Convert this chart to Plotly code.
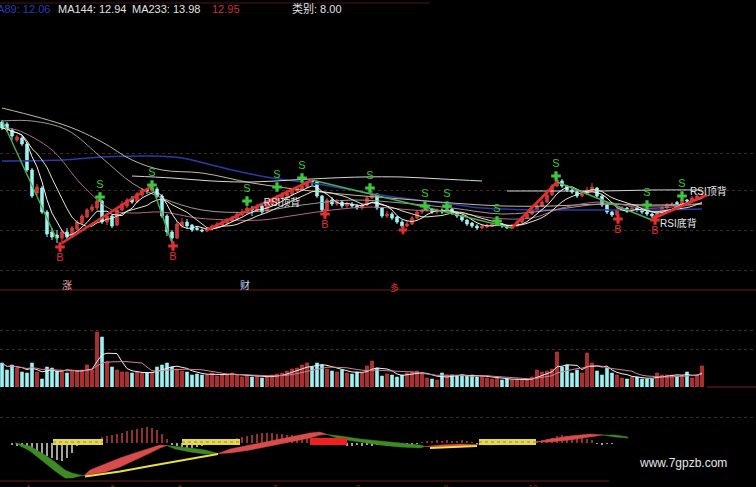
import plotly.graph_objects as go
import pandas as pd

W, H = 756, 487

# ---------------- data ----------------
opens = [16.7,16.6,16.3,15.8,15.9,15.6,14.3,13.15,13.4,12.2,
         11.2,11.05,10.9,11.2,10.95,11.35,11.65,11.95,12.3,12.4,
         12.75,11.7,12.0,11.55,12.3,12.5,12.85,12.7,13.05,13.35,
         13.25,13.35,13.0,12.0,11.2,10.9,11.5,11.7,11.55,11.4,
         11.3,11.25,11.35,11.45,11.55,11.65,11.75,11.85,12.05,12.2,
         12.4,12.3,12.5,12.25,12.6,12.75,12.9,13.0,13.1,13.25,
         13.35,13.45,13.75,13.7,13.0,12.3,12.8,12.6,12.7,12.5,
         12.6,12.5,12.4,12.55,12.9,13.1,12.4,12.0,12.1,11.95,
         11.7,11.5,11.6,11.9,12.2,12.3,12.35,12.2,12.3,12.2,
         12.35,12.15,12.0,11.8,11.65,11.5,11.4,11.45,11.5,11.55,
         11.6,11.5,11.4,11.5,11.7,11.9,12.1,12.3,12.5,12.7,
         13.05,13.5,13.75,13.5,13.3,13.2,13.0,13.1,13.3,13.4,
         13.0,12.55,12.2,12.05,12.3,12.4,12.25,12.4,12.3,12.2,
         12.1,12.0,12.15,12.4,12.55,12.68,12.6,12.8,12.75,12.88,
         12.9]
closes = [16.4,16.3,16.0,15.95,15.6,14.3,13.0,13.45,12.2,11.1,
          10.95,10.9,11.2,10.95,11.4,11.7,12.0,12.3,12.45,12.75,
          11.7,12.0,11.5,12.3,12.6,12.8,12.7,13.1,13.3,13.25,
          13.4,13.0,12.0,11.2,10.9,11.6,11.7,11.5,11.3,11.33,
          11.25,11.35,11.5,11.6,11.7,11.8,11.9,12.1,12.2,12.4,
          12.3,12.5,12.2,12.65,12.8,12.95,13.05,13.15,13.3,13.4,
          13.5,13.65,13.7,13.0,12.3,12.8,12.6,12.7,12.5,12.6,
          12.5,12.4,12.55,12.9,13.1,12.4,12.0,12.1,11.9,11.7,
          11.5,11.6,11.9,12.2,12.3,12.35,12.2,12.3,12.2,12.35,
          12.15,12.0,11.8,11.6,11.5,11.4,11.5,11.55,11.58,11.6,
          11.5,11.4,11.5,11.7,11.9,12.1,12.3,12.5,12.7,13.05,
          13.5,13.8,13.5,13.3,13.2,13.0,13.1,13.3,13.45,13.0,
          12.55,12.2,12.05,12.3,12.4,12.25,12.4,12.3,12.2,12.1,
          12.0,12.15,12.4,12.55,12.6,12.62,12.8,12.75,12.9,13.0,
          12.95]
highs = [16.8,16.7,16.4,16.05,16.0,15.7,14.4,13.6,13.5,12.3,
         11.4,11.3,11.3,11.4,11.5,11.8,12.1,12.4,12.6,12.85,
         12.8,12.15,12.05,12.4,12.75,12.9,13.0,13.2,13.4,13.4,
         13.45,13.45,13.1,12.1,11.3,11.75,11.9,11.85,11.6,11.5,
         11.38,11.42,11.58,11.7,11.8,11.9,12.0,12.2,12.35,12.55,
         12.5,12.6,12.6,12.75,12.9,13.05,13.2,13.3,13.4,13.5,
         13.65,13.75,13.8,13.75,13.05,12.9,12.95,12.85,12.8,12.7,
         12.7,12.6,12.65,13.0,13.25,13.15,12.45,12.25,12.2,12.0,
         11.8,11.75,12.0,12.3,12.35,12.4,12.4,12.38,12.38,12.4,
         12.4,12.2,12.05,11.85,11.7,11.6,11.6,11.62,11.62,11.65,
         11.64,11.55,11.6,11.8,12.0,12.2,12.4,12.6,12.8,13.15,
         13.6,13.9,13.85,13.55,13.4,13.3,13.25,13.45,13.65,13.45,
         13.05,12.6,12.25,12.4,12.5,12.45,12.5,12.45,12.35,12.25,
         12.15,12.25,12.5,12.65,12.7,12.75,12.9,12.85,13.0,13.1,
         13.15]
lows = [16.3,16.2,15.8,15.7,15.5,14.2,12.9,13.0,12.1,10.95,
        10.8,10.65,10.6,10.85,10.9,11.3,11.6,11.9,12.2,12.3,
        11.6,11.55,11.4,11.5,12.25,12.4,12.6,12.65,12.95,13.1,
        13.2,12.9,11.9,11.0,10.7,10.85,11.4,11.4,11.2,11.25,
        11.18,11.2,11.3,11.4,11.5,11.6,11.7,11.8,12.0,12.1,
        12.0,12.2,12.1,12.2,12.5,12.7,12.85,12.95,13.0,13.2,
        13.3,13.4,13.55,12.9,12.2,12.25,12.5,12.5,12.4,12.4,
        12.4,12.3,12.3,12.5,12.85,12.3,11.9,11.9,11.8,11.6,
        11.4,11.45,11.55,11.85,12.1,12.2,12.1,12.1,12.1,12.15,
        12.05,11.9,11.7,11.5,11.4,11.3,11.35,11.4,11.45,11.5,
        11.4,11.35,11.35,11.45,11.65,11.85,12.05,12.25,12.45,12.65,
        13.0,13.45,13.4,13.2,13.1,12.9,12.95,13.05,13.25,12.9,
        12.45,12.1,11.95,12.0,12.25,12.15,12.2,12.2,12.1,12.0,
        11.9,11.95,12.1,12.35,12.5,12.55,12.55,12.7,12.7,12.85,
        12.85]
volumes = [24,17,22,19,15,14,24,15,8,20,
           19,16,17,14,17,16,17,22,17,55,
           50,25,20,17,15,15,14,15,14,14,
           15,20,22,24,20,18,16,15,12,13,
           12,12,14,11,12,13,14,12,10,12,
           10,11,9,10,12,13,14,16,18,19,
           22,24,20,24,22,18,16,15,17,14,
           13,15,14,21,26,19,11,13,12,10,
           12,14,15,16,14,9,8,7,14,12,
           12,11,12,11,12,10,11,9,8,9,
           7,8,7,8,7,7,10,17,15,16,
           18,35,20,22,14,17,14,34,24,16,
           12,19,14,12,9,8,10,10,8,8,
           8,14,12,12,12,11,12,15,9,12,
           21]
macd_hist = ([0, 0]
             + [-0.2,-0.3,-0.4,-0.5,-0.7,-0.9,-1.1,-1.3,-1.5,-1.7,-1.8,-1.5,-1.0,-0.3,-0.1]
             + [0.2,0.3,0.4,0.6,0.7,0.8,0.9,1.0,1.2,1.3,1.4,1.5,1.6,1.5,1.3,0.9,0.4]
             + [-0.2,-0.3,-0.4,-0.5,-0.5,-0.4,-0.3,-0.2,-0.1]
             + [0.1,0.2,0.3,0.4,0.5,0.6,0.7,0.8,0.9,1.0,1.0,1.0,0.9,0.9,0.8,0.8,0.7,0.6,0.5,0.4,0.3,0.2,0.1]
             + [-0.1,-0.2,-0.2,-0.3,-0.3,-0.2,-0.3,-0.2,-0.3,-0.2,-0.2,-0.3,-0.2,-0.2,-0.3,-0.2,-0.2,-0.1]
             + [0.1,0.2,0.2,0.3,0.2,0.3,0.2,0.2,0.3,0.2,0.1]
             + [-0.1,-0.2,-0.2,-0.1,-0.2,-0.1,-0.2,-0.1,-0.1,-0.2,-0.1]
             + [0.1,0.2,0.3,0.4,0.5,0.7,0.8,0.7,0.6,0.5,0.5,0.4,0.3]
             + [-0.1,-0.2,-0.1,-0.1]
             + [0] * 18)
idx = list(range(len(closes)))

# long moving averages (candle index, price)
ma20_i = [0,3,10,16,22,26,32,39,46,52,59,66,74,82,90,98,106,112,120,128,134,140]
ma20_v = [16.4,16.3,15.3,13.55,12.3,12.15,12.2,11.9,11.8,11.8,12.05,12.3,12.45,12.3,12.2,11.9,11.9,12.4,12.7,12.4,12.45,12.65]
ma30_i = [0,6,13,20,26,32,40,50,60,70,80,90,100,110,120,130,140]
ma30_v = [16.75,16.75,16.3,14.9,13.65,12.9,12.3,12.2,12.55,12.8,12.65,12.4,12.1,12.3,12.6,12.5,12.6]
ma60_i = [0,13,20,26,32,40,50,60,70,80,90,100,110,120,130,140]
ma60_v = [17.4,16.5,15.7,14.8,14.3,14.15,13.65,13.3,13.05,12.85,12.65,12.5,12.5,12.6,12.55,12.6]
ma233_i = [0,12,20,30,36,42,46,54,62,70,80,90,96,110,120,130,140]
ma233_v = [14.75,14.8,14.95,15.0,14.9,14.55,14.3,13.9,13.65,13.3,12.9,12.6,12.4,12.3,12.3,12.3,12.35]
lvl1_i = [26,34,42,50,58,66,72,80,88,96]
lvl1_v = [14.0,13.9,13.75,13.7,13.8,13.9,13.95,13.95,13.85,13.75]
lvl2_i = [101,110,120,130,140]
lvl2_v = [13.25,13.25,13.25,13.3,13.3]

# zig-zag legs
up_legs = [([12, 30], [10.65, 13.5]), ([41, 62], [11.3, 13.8]),
           ([102, 111], [11.4, 13.7]), ([130, 141], [11.85, 13.05])]
down_legs = [([0, 11], [16.8, 10.8]), ([30, 34], [13.5, 10.65]),
             ([62, 102], [13.8, 11.4]), ([111, 130], [13.7, 11.8])]

# signals
s_idx = [19.6, 30, 49, 55, 60, 73.6, 84.6, 89, 99, 110.8, 129, 136]
s_val = [12.95, 13.55, 12.75, 13.45, 13.9, 13.4, 12.5, 12.5, 11.75, 14.0, 12.55, 13.0]
b_idx = [11.6, 34.2, 64.6, 123.2, 130.6]
b_val = [10.45, 10.5, 12.1, 11.85, 11.8]
r_idx = [80.2]
r_val = [11.3]

# MACD bands
mx = [2.6,5.6,8.6,10.6,12.6,14.0,15.6,16.4,17.6,20.6,23.6,26.6,29.6,31.6,33.0,
      34.6,37.6,40.6,43.2,45.6,49.6,53.6,57.6,61.6,63.6,65.0,67.6,71.6,75.6,79.6,
      83.6,84.6,87.6,91.6,95.0,97.6,101.6,105.6,107.0,109.6,113.6,117.6,120.2,122.6,125.2]
dif = [0.0,-0.8,-2.0,-2.8,-3.5,-3.5,-3.3,-3.25,-2.7,-2.1,-1.5,-1.0,-0.5,-0.2,-0.25,
       -0.6,-0.9,-1.1,-1.05,-0.6,-0.2,0.2,0.6,1.0,1.1,0.85,0.4,0.1,-0.2,-0.4,
       -0.5,-0.35,-0.2,-0.1,-0.15,-0.2,-0.1,0.0,0.1,0.4,0.7,0.9,0.8,0.6,0.5]
dea = [0.0,-0.3,-1.2,-1.9,-2.7,-3.0,-3.2,-3.25,-3.2,-2.9,-2.4,-1.7,-1.0,-0.5,-0.25,
       -0.3,-0.5,-0.7,-1.05,-1.0,-0.7,-0.3,0.1,0.5,0.8,0.85,0.7,0.4,0.2,0.0,
       -0.2,-0.35,-0.4,-0.4,-0.15,0.0,0.1,0.2,0.1,0.1,0.3,0.6,0.8,0.8,0.6]
yel_lines = [([16.6, 23.6, 29.6, 35.6, 43.2], [-3.35, -2.85, -2.3, -1.8, -1.1]),
             ([85.6, 95.0], [-0.5, -0.3])]
yel_blocks = [(10.2, 20.2), (36.0, 47.6), (95.4, 106.8)]
red_block = (61.6, 69.0)

tick_idx = [5.2, 22.2, 35.6, 54.6, 71.2, 88.8, 106.2]
tick_txt = ["4", "5", "6", "7", "8", "9", "10"]

# ---------------- figure ----------------
def py(p):
    return 1 - p / H

def px(p):
    return p / W

RED = '#e23c3c'
CYAN = '#9cf2f2'
fig = go.Figure()

fig.add_trace(go.Candlestick(
    x=idx, open=opens, high=highs, low=lows, close=closes,
    increasing=dict(line=dict(color=RED, width=1), fillcolor='#c83232'),
    decreasing=dict(line=dict(color=CYAN, width=1), fillcolor=CYAN),
    whiskerwidth=0, xaxis='x', yaxis='y', hoverinfo='skip'))

cs = pd.Series(closes)
ma5 = cs.rolling(5, min_periods=1).mean().tolist()
ma10 = cs.rolling(10, min_periods=1).mean().tolist()


def line(x, y, color, width=1, yaxis='y', shape='linear', dash='solid'):
    fig.add_trace(go.Scatter(x=x, y=y, mode='lines', yaxis=yaxis,
                             line=dict(color=color, width=width, shape=shape, dash=dash),
                             hoverinfo='skip'))

line(ma233_i, ma233_v, '#2a3aa8', 1.5, shape='spline')
line(ma60_i, ma60_v, '#c8b898', 1, shape='spline')
line(lvl1_i, lvl1_v, '#d6d6d6', 1, shape='spline')
line(lvl2_i, lvl2_v, '#d6d6d6', 1, shape='spline')
line(ma30_i, ma30_v, '#9a9a9a', 1, shape='spline')
line(ma20_i, ma20_v, '#b46892', 1, shape='spline')
line(idx, ma10, '#e6e6b4', 1)
line(idx, ma5, '#f4f4f4', 1)

for xs, ys in down_legs:
    line(xs, ys, '#4cb04c', 1.4)
for xs, ys in up_legs:
    line(xs, ys, '#e03030', 2.6)

fig.add_trace(go.Scatter(x=s_idx, y=s_val, mode='markers+text', text=['S'] * len(s_idx),
                         textposition='top center',
                         textfont=dict(color='#3cc83c', size=11, family='Liberation Sans'),
                         marker=dict(symbol='cross', size=8, color='#3cc83c'),
                         hoverinfo='skip'))
fig.add_trace(go.Scatter(x=b_idx, y=b_val, mode='markers+text', text=['B'] * len(b_idx),
                         textposition='bottom center',
                         textfont=dict(color='#e03030', size=11, family='Liberation Sans'),
                         marker=dict(symbol='cross', size=8, color='#e03030'),
                         hoverinfo='skip'))
fig.add_trace(go.Scatter(x=r_idx, y=r_val, mode='markers',
                         marker=dict(symbol='cross', size=7, color='#e03030'),
                         hoverinfo='skip'))

# volume
vol_colors = [RED if c >= o else CYAN for o, c in zip(opens, closes)]
vol_fill = ['#a83030' if c >= o else CYAN for o, c in zip(opens, closes)]
fig.add_trace(go.Bar(x=idx, y=volumes, width=0.62, yaxis='y2',
                     marker=dict(color=vol_fill, line=dict(color=vol_colors, width=0.6)),
                     hoverinfo='skip'))
vs = pd.Series(volumes)
line(idx, vs.rolling(5, min_periods=1).mean().tolist(), '#f0f0f0', 1, yaxis='y2')
line(idx, vs.rolling(10, min_periods=1).mean().tolist(), '#d08098', 1, yaxis='y2')

# MACD histogram
hist_colors = ['#c04040' if v > 0 else '#d8d8d8' for v in macd_hist]
fig.add_trace(go.Bar(x=idx, y=macd_hist, width=0.3, yaxis='y3',
                     marker=dict(color=hist_colors, line=dict(width=0)), hoverinfo='skip'))

# MACD bands, split at crossings
runs = []
start = 0
for k in range(1, len(mx)):
    if dif[k] == dea[k] or k == len(mx) - 1:
        runs.append((start, k))
        start = k
for a, b in runs:
    xs = mx[a:b + 1]
    d1 = dif[a:b + 1]
    d2 = dea[a:b + 1]
    up = sum(p - q for p, q in zip(d1, d2)) > 0
    col = '#d84c4c' if up else '#3f8a26'
    fig.add_trace(go.Scatter(x=xs + xs[::-1], y=d1 + d2[::-1], mode='lines', fill='toself',
                             fillcolor=col, line=dict(color=col, width=0.5), yaxis='y3',
                             hoverinfo='skip'))
for xs, ys in yel_lines:
    line(xs, ys, '#e8e040', 2, yaxis='y3')
for a, b in yel_blocks:
    line([a, b], [0.1, 0.1], '#e6d848', 6, yaxis='y3')
    line([a, b], [0.1, 0.1], '#8a8a60', 1, yaxis='y3', dash='dot')
line([red_block[0], red_block[1]], [0.15, 0.15], '#f02020', 7, yaxis='y3')

# ---------------- layout ----------------
grid = '#432a2a'
fig.update_layout(
    width=W, height=H, margin=dict(l=0, r=0, t=0, b=0, pad=0, autoexpand=False),
    paper_bgcolor='black', plot_bgcolor='black', showlegend=False,
    barmode='overlay',
    xaxis=dict(range=[-0.4, 150.8], domain=[0, 1], anchor='y3', showgrid=False,
               zeroline=False, rangeslider=dict(visible=False), automargin=False,
               tickvals=tick_idx, ticktext=tick_txt, ticks='',
               tickfont=dict(size=8, color='#8a3030', family='Liberation Sans')),
    yaxis=dict(domain=[py(272), py(15)], range=[9.2, 22.05], tickvals=[9.3, 11.3, 13.3, 15.15],
               showticklabels=False, showgrid=True, gridcolor=grid, griddash='dot',
               zeroline=False, anchor='x', automargin=False),
    yaxis2=dict(domain=[py(387), py(295)], range=[0, 92], tickvals=[38, 57],
                showticklabels=False, showgrid=True, gridcolor=grid, griddash='dot',
                zeroline=False, anchor='x', automargin=False),
    yaxis3=dict(domain=[py(481), py(400)], range=[-3.8, 4.3], tickvals=[2.6],
                showticklabels=False, showgrid=True, gridcolor=grid, griddash='dot',
                zeroline=False, anchor='x', automargin=False),
)

shapes = []
for x0, x1, yy, col in [(0, 430, 3, '#4a1414'), (0, 756, 290, '#6a1c1c'),
                        (707, 756, 387, '#7a2020'), (0, 609, 481, '#6a1c1c')]:
    shapes.append(dict(type='line', xref='paper', yref='paper', x0=px(x0), x1=px(x1),
                       y0=py(yy), y1=py(yy), line=dict(color=col, width=1)))
fig.update_layout(shapes=shapes)

FONT = 'Liberation Sans, Noto Sans CJK SC'
ann = []


def text(t, x, y, color, size=10, xanchor='left'):
    ann.append(dict(text=t, x=px(x), y=py(y), xref='paper', yref='paper', showarrow=False,
                    xanchor=xanchor, yanchor='middle',
                    font=dict(color=color, size=size, family=FONT)))

text('MA89: 12.06', 52, 9, '#2a3ab8', 11, 'right')
text('MA144: 12.94', 56, 9, '#e2e2e2', 11)
text('MA233: 13.98', 130, 9, '#e2e2e2', 11)
text('12.95', 210, 9, '#c83030', 11)
text('类别: 8.00', 290, 9, '#e2e2e2', 11)
text('涨', 67, 285, '#e8a8a8', 10, 'center')
text('财', 245, 285, '#c8d8f8', 10, 'center')
text('多', 394, 287, '#e03030', 9, 'center')
fig.update_layout(annotations=ann)

# in-chart texts tied to data
fig.add_trace(go.Scatter(x=[56.0, 137.6, 131.6], y=[12.65, 13.2, 11.6], mode='text',
                         text=['RSI顶背', 'RSI顶背', 'RSI底背'],
                         textposition=['middle center', 'middle right', 'middle right'],
                         textfont=dict(color='#e8e8e8', size=10, family=FONT),
                         hoverinfo='skip'))

fig.add_annotation(text='www.7gpzb.com', x=px(683), y=py(463), xref='paper', yref='paper',
                   showarrow=False, xanchor='center', yanchor='middle',
                   font=dict(color='#e6e6e6', size=12, family='Liberation Sans'))

fig.write_html('out.html', config={'displayModeBar': False, 'staticPlot': True},
               post_script="document.body.style.margin='0';document.body.style.padding='0';"
                           "document.body.style.background='black';"
                           "document.body.style.overflow='hidden';")
